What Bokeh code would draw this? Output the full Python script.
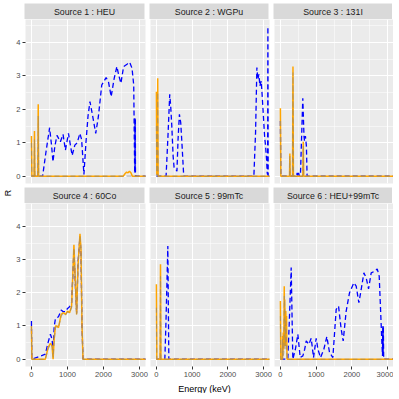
import math
from bokeh.plotting import figure
from bokeh.layouts import row, column
from bokeh.models import Range1d, FixedTicker, Label
from bokeh.embed import file_html
from bokeh.resources import INLINE

# ---------------- data ----------------
TITLES = ["Source 1 : HEU", "Source 2 : WGPu", "Source 3 : 131I",
          "Source 4 : 60Co", "Source 5 : 99mTc", "Source 6 : HEU+99mTc"]
X_TICKS = [0, 1000, 2000, 3000]
X_MINOR = [500, 1500, 2500]
Y_TICKS = [0, 1, 2, 3, 4]
Y_MINOR = [0.5, 1.5, 2.5, 3.5, 4.5]
X_LABEL = "Energy (keV)"
Y_LABEL = "R"

# Source 1 : HEU
B1_E = [0, 310, 400, 504, 560, 597, 650, 709, 803, 877, 943, 1027, 1129, 1204, 1270,
        1344, 1392, 1456, 1512, 1570, 1624, 1699, 1784, 1857, 1951, 2072, 2137, 2212,
        2296, 2371, 2427, 2483, 2557, 2652, 2726, 2791, 2838, 2865, 2870, 2874, 2877,
        2880, 2883, 2886, 2895, 3200]
B1_R = [0, 0, 0.7, 1.45, 0.9, 0.43, 0.9, 1.22, 1.03, 1.25, 0.78, 1.28, 0.62, 0.93, 1.0,
        1.28, 1.1, 0.05, 1.0, 1.8, 2.23, 1.8, 1.28, 1.78, 2.73, 2.95, 2.83, 2.38,
        2.93, 3.28, 3.0, 2.78, 3.28, 3.35, 3.41, 3.23, 2.73, 0.1, 1.75, 0.1, 1.7,
        0.1, 1.75, 0.1, 0, 0]
O1_E = [0, 12, 24, 72, 84, 96, 176, 188, 200, 2550, 2600, 2640, 2680, 2720, 2760, 2800, 3200]
O1_R = [1.2, 0, 0, 0, 1.35, 0, 0, 2.15, 0, 0, 0.08, 0.12, 0.1, 0.15, 0.1, 0, 0]
G1_E = [0, 12, 72, 84, 96, 176, 188, 200, 3200]
G1_R = [1.0, 0, 0, 1.1, 0, 0, 1.8, 0, 0]

# Source 2 : WGPu
B2_E = [0, 271, 328, 373, 400, 431, 468, 496, 552, 575, 606, 644, 681, 719, 765,
        2728, 2775, 2812, 2840, 2868, 2896, 2933, 2961, 2989, 3027, 3055, 3083, 3101,
        3112, 3120, 3128, 3200]
B2_R = [0, 0, 1.3, 2.45, 2.1, 1.5, 0.6, 0.25, 0.2, 0.15, 1.1, 1.85, 1.6, 0.9, 0,
        0, 1.3, 3.25, 2.9, 3.05, 2.7, 2.85, 2.4, 1.9, 1.2, 0.9, 0.5, 0.1,
        0.05, 4.47, 0, 0]
O2_E = [0, 12, 28, 37, 48, 3200]
O2_R = [2.53, 0.05, 0.05, 2.93, 0, 0]
G2_E = [0, 12, 28, 37, 48, 3200]
G2_R = [1.5, 0, 0, 2.5, 0, 0]

# Source 3 : 131I
B3_E = [0, 12, 450, 470, 490, 510, 530, 563, 600, 627, 660, 675, 700, 728, 747, 3200]
B3_R = [1.65, 0, 0, 0.1, 0, 0.1, 0, 0.1, 1.4, 2.33, 1.2, 1.05, 1.2, 0.9, 0, 0]
O3_E = [0, 12, 255, 265, 275, 340, 352, 364, 628, 640, 652, 3200]
O3_R = [2.03, 0, 0, 0.68, 0, 0, 3.28, 0, 0, 1.03, 0, 0]
G3_E = [0, 12, 255, 265, 275, 340, 352, 364, 628, 640, 652, 3200]
G3_R = [1.65, 0, 0, 0.6, 0, 0, 3.1, 0, 0, 0.9, 0, 0]

# Source 4 : 60Co
B4_E = [0, 12, 386, 461, 526, 573, 601, 630, 667, 710, 750, 825, 881, 946, 1002,
        1058, 1114, 1179, 1216, 1254, 1291, 1347, 1375, 1403, 1431, 3200]
B4_R = [1.15, 0, 0.15, 0.5, 0.75, 0.6, 0.2, 0.98, 1.23, 1.25, 1.28, 1.48, 1.43, 1.43, 1.53,
        1.58, 1.7, 3.3, 2.3, 1.4, 2.9, 3.7, 3.2, 1.0, 0, 0]
O4_E = [0, 12, 386, 461, 526, 573, 601, 630, 667, 710, 750, 825, 881, 946, 1002,
        1058, 1114, 1179, 1216, 1254, 1291, 1347, 1375, 1403, 1431, 3200]
O4_R = [1.0, 0, 0, 0.35, 0.48, 0.4, 0.0, 0.6, 1.0, 1.0, 0.95, 1.35, 1.4, 1.35, 1.45,
        1.4, 1.6, 3.45, 2.4, 1.35, 2.8, 3.78, 3.3, 1.0, 0, 0]
G4_E = [0, 12, 386, 461, 526, 573, 601, 630, 667, 710, 750, 825, 881, 946, 1002,
        1058, 1114, 1179, 1216, 1254, 1291, 1347, 1375, 1403, 1431, 3200]
G4_R = [1.0, 0, 0, 0.3, 0.45, 0.38, 0.05, 0.55, 0.95, 0.98, 0.95, 1.3, 1.38, 1.33, 1.42,
        1.4, 1.55, 3.35, 2.35, 1.35, 2.75, 3.7, 3.25, 1.0, 0, 0]

# Source 5 : 99mTc
B5_E = [0, 236, 265, 295, 320, 335, 348, 3200]
B5_R = [0, 0, 1.0, 2.3, 3.41, 1.5, 0, 0]
O5_E = [0, 12, 103, 115, 127, 3200]
O5_R = [2.26, 0, 0, 2.86, 0, 0]
G5_E = [0, 12, 103, 115, 127, 3200]
G5_R = [1.55, 0, 0, 2.5, 0, 0]

# Source 6 : HEU+99mTc
B6_E = [0, 208, 255, 302, 348, 420, 488, 554, 629, 680, 722, 797, 862, 927, 1002,
        1049, 1123, 1216, 1300, 1375, 1468, 1561, 1627, 1701, 1757, 1841, 1934, 2055,
        2121, 2196, 2261, 2336, 2401, 2467, 2541, 2635, 2709, 2765, 2803, 2840, 2858,
        2864, 2868, 2872, 2876, 2880, 2890, 3200]
B6_R = [0, 0, 1.3, 2.76, 0, 0.3, 0.75, 0.05, 0.1, 0.3, 0.55, 0.45, 0.63, 0.05, 0.63,
        0.3, 0.05, 0.3, 0.68, 0.2, 0.05, 1.5, 1.6, 0.9, 0.55, 1.45, 2.0, 2.3,
        2.2, 1.7, 2.1, 2.6, 2.45, 2.12, 2.6, 2.65, 2.72, 2.5, 1.5, 0.5, 0.1,
        1.0, 0.1, 1.0, 0.1, 1.0, 0, 0]
O6_E = [0, 12, 55, 62, 68, 80, 95, 108, 115, 122, 135, 150, 162, 172, 185, 3200]
O6_R = [1.75, 0, 0, 0.7, 0.1, 0.8, 0.3, 2.2, 0.5, 1.8, 0.4, 1.45, 1.0, 1.3, 0, 0]
G6_E = [0, 12, 55, 62, 68, 95, 108, 122, 135, 150, 185, 3200]
G6_R = [1.3, 0, 0, 0.6, 0, 0.2, 1.9, 1.5, 0.3, 1.2, 0, 0]

BLUE = [(B1_E, B1_R), (B2_E, B2_R), (B3_E, B3_R), (B4_E, B4_R), (B5_E, B5_R), (B6_E, B6_R)]
ORANGE = [(O1_E, O1_R), (O2_E, O2_R), (O3_E, O3_R), (O4_E, O4_R), (O5_E, O5_R), (O6_E, O6_R)]
GREY = [(G1_E, G1_R), (G2_E, G2_R), (G3_E, G3_R), (G4_E, G4_R), (G5_E, G5_R), (G6_E, G6_R)]

# ---------------- layout / style ----------------
FONT = "Liberation Sans"
FW = [120, 119, 119]
FH = [164, 163]
STRIP_H = 16
TOP_PAD = 3
AX_L = 11
GAP = 5
ROW_GAP = 4
RLAB_W = 13
X_RANGE = (-165, 3165)
Y_RANGE = (-0.22, 4.69)


def base_fig(col, fh, bottom=0, top=0, **kw):
    return figure(output_backend="svg", toolbar_location=None,
                  frame_width=FW[col], frame_height=fh,
                  min_border_left=AX_L if col == 0 else 0,
                  min_border_right=GAP if col < 2 else 0,
                  min_border_top=top, min_border_bottom=bottom,
                  border_fill_color="white", outline_line_color=None, **kw)


def strip(i):
    col, r = i % 3, i // 3
    s = base_fig(col, STRIP_H, top=TOP_PAD if r == 0 else 0,
                 x_range=Range1d(0, 1), y_range=Range1d(0, 1),
                 x_axis_location=None, y_axis_location=None)
    s.background_fill_color = "#D9D9D9"
    s.grid.visible = False
    s.add_layout(Label(x=0.5, y=0.5, text=TITLES[i], text_align="center",
                       text_baseline="middle", text_font=FONT,
                       text_font_size="8.8px", text_color="#1A1A1A"))
    return s


def panel(i):
    col, r = i % 3, i // 3
    p = base_fig(col, FH[r], bottom=ROW_GAP if r == 0 else 0,
                 x_range=Range1d(*X_RANGE), y_range=Range1d(*Y_RANGE),
                 x_axis_location="below" if r == 1 else None,
                 y_axis_location="left" if col == 0 else None)
    p.background_fill_color = "#EBEBEB"
    p.xgrid.ticker = FixedTicker(ticks=X_TICKS, minor_ticks=X_MINOR)
    p.ygrid.ticker = FixedTicker(ticks=Y_TICKS, minor_ticks=Y_MINOR)
    p.grid.grid_line_color = "white"
    p.grid.grid_line_width = 1.0
    p.grid.minor_grid_line_color = "white"
    p.grid.minor_grid_line_width = 0.5
    for ax in p.axis:
        ax.axis_line_color = None
        ax.major_tick_line_color = "#333333"
        ax.major_tick_line_width = 1
        ax.major_tick_out = 3
        ax.major_tick_in = 0
        ax.minor_tick_line_color = None
        ax.major_label_text_font = FONT
        ax.major_label_text_font_size = "7.6px"
        ax.major_label_text_color = "#4D4D4D"
        ax.major_label_standoff = 2
    if r == 1:
        p.xaxis.ticker = FixedTicker(ticks=X_TICKS)
    if col == 0:
        p.yaxis.ticker = FixedTicker(ticks=Y_TICKS)
    be, br = BLUE[i]
    oe, orr = ORANGE[i]
    ge, gr = GREY[i]
    p.line(be, br, line_color="#0000FF", line_width=1.3, line_dash="5 3")
    p.line(oe, orr, line_color="#FFA500", line_width=1.5)
    p.line(ge, gr, line_color="#808080", line_alpha=0.55, line_width=1.1, line_dash="5 3")
    return p


strips = [strip(i) for i in range(6)]
panels = [panel(i) for i in range(6)]

grid_col = column(row(*strips[0:3]), row(*panels[0:3]),
                  row(*strips[3:6]), row(*panels[3:6]))

PANELS_H = FH[0] + ROW_GAP + STRIP_H + FH[1]       # from first panel top to last panel bottom
TOTAL_H = TOP_PAD + STRIP_H + PANELS_H
rfig = figure(output_backend="svg", toolbar_location=None,
              frame_width=RLAB_W, frame_height=TOTAL_H,
              x_range=Range1d(0, RLAB_W), y_range=Range1d(0, TOTAL_H),
              x_axis_location=None, y_axis_location=None, min_border=0,
              outline_line_color=None)
rfig.grid.visible = False
rfig.add_layout(Label(x=7.5, y=PANELS_H / 2,
                      text=Y_LABEL, angle=math.pi / 2, text_align="center",
                      text_baseline="middle", text_font=FONT,
                      text_font_size="9px", text_color="black"))

TOTAL_W = RLAB_W + AX_L + FW[0] + GAP + FW[1] + GAP + FW[2]
XL_H = 14
xfig = figure(output_backend="svg", toolbar_location=None,
              frame_width=TOTAL_W, frame_height=XL_H,
              x_range=Range1d(0, TOTAL_W), y_range=Range1d(0, XL_H),
              x_axis_location=None, y_axis_location=None, min_border=0,
              outline_line_color=None)
xfig.grid.visible = False
xfig.add_layout(Label(x=204, y=4.5, text=X_LABEL, text_align="center",
                      text_baseline="middle", text_font=FONT,
                      text_font_size="9px", text_color="black"))

layout = column(row(rfig, grid_col), xfig)

open("out.html", "w").write(file_html(layout, INLINE))
